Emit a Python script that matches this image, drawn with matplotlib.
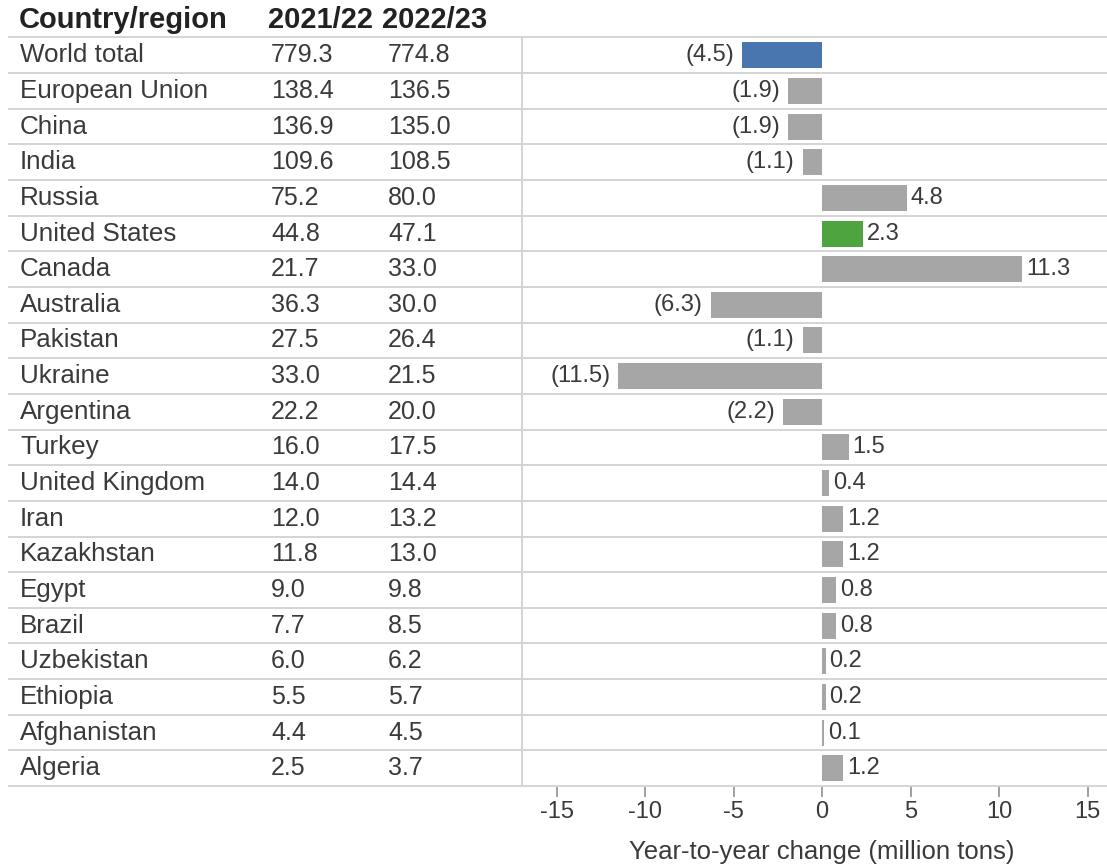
import matplotlib
matplotlib.use("Agg")
import matplotlib.pyplot as plt
from matplotlib.transforms import blended_transform_factory
from matplotlib.lines import Line2D

countries = ["World total", "European Union", "China", "India", "Russia",
             "United States", "Canada", "Australia", "Pakistan", "Ukraine",
             "Argentina", "Turkey", "United Kingdom", "Iran", "Kazakhstan",
             "Egypt", "Brazil", "Uzbekistan", "Ethiopia", "Afghanistan", "Algeria"]
y2122 = [779.3, 138.4, 136.9, 109.6, 75.2, 44.8, 21.7, 36.3, 27.5, 33.0,
         22.2, 16.0, 14.0, 12.0, 11.8, 9.0, 7.7, 6.0, 5.5, 4.4, 2.5]
y2223 = [774.8, 136.5, 135.0, 108.5, 80.0, 47.1, 33.0, 30.0, 26.4, 21.5,
         20.0, 17.5, 14.4, 13.2, 13.0, 9.8, 8.5, 6.2, 5.7, 4.5, 3.7]
change = [-4.5, -1.9, -1.9, -1.1, 4.8, 2.3, 11.3, -6.3, -1.1, -11.5,
          -2.2, 1.5, 0.4, 1.2, 1.2, 0.8, 0.8, 0.2, 0.2, 0.1, 1.2]
headers = ["Country/region", "2021/22", "2022/23"]
xticks = [-15, -10, -5, 0, 5, 10, 15]

plt.rcParams['font.family'] = ['Liberation Sans', 'DejaVu Sans']
TXT = '#3a3a3a'
GRID = '#d4d4d4'
GREY = '#a6a6a6'
BLUE = '#4a76b0'
GREEN = '#4ea53f'

W, H = 1107, 867
fig = plt.figure(figsize=(W / 100, H / 100), dpi=100)
top_px, bot_px, left_px = 37.5, 786.0, 522.0
ax = fig.add_axes([left_px / W, 1 - bot_px / H, 1 - left_px / W, (bot_px - top_px) / H])

n = len(countries)
ypos = list(range(n))
colors = [GREY] * n
colors[0] = BLUE
colors[countries.index("United States")] = GREEN
ax.barh(ypos, change, height=0.73, color=colors, zorder=3)

ax.set_ylim(n - 0.5, -0.5)
ax.set_xlim(-16.95, 16.1)
ax.set_yticks([])
ax.set_xticks(xticks)
ax.set_xticklabels([str(t) for t in xticks], fontsize=17, color=TXT)
ax.tick_params(axis='x', length=8, width=1.2, color='#909090', pad=3)
for s in ['top', 'right', 'bottom']:
    ax.spines[s].set_visible(False)
ax.spines['left'].set_color(GRID)
ax.spines['left'].set_linewidth(1.4)

# value labels
for y, v in zip(ypos, change):
    if v < 0:
        ax.annotate(f"({abs(v):.1f})", (v, y), xytext=(-8, 0), textcoords='offset pixels',
                    ha='right', va='center', fontsize=17, color=TXT)
    else:
        ax.annotate(f"{v:.1f}", (v, y), xytext=(4, 0), textcoords='offset pixels',
                    ha='left', va='center', fontsize=17, color=TXT)

# table
tr = blended_transform_factory(fig.transFigure, ax.transData)
col_x = [20 / W, 271 / W, 388 / W]
hdr_x = [19 / W, 268 / W, 382 / W]
for hx, h in zip(hdr_x, headers):
    ax.text(hx, -0.99, h, transform=tr, ha='left', va='center', fontsize=21,
            fontweight='bold', color='#222222', clip_on=False)
for y, c, a, b in zip(ypos, countries, y2122, y2223):
    ax.text(col_x[0], y, c, transform=tr, ha='left', va='center', fontsize=18.7, color=TXT, clip_on=False)
    ax.text(col_x[1], y, f"{a:.1f}", transform=tr, ha='left', va='center', fontsize=18, color=TXT, clip_on=False)
    ax.text(col_x[2], y, f"{b:.1f}", transform=tr, ha='left', va='center', fontsize=18, color=TXT, clip_on=False)

for k in range(n + 1):
    fig.add_artist(Line2D([9 / W, 1.0], [k - 0.5, k - 0.5], transform=tr, color=GRID, lw=1.4, zorder=1))

ax.set_xlabel("Year-to-year change (million tons)", fontsize=18.5, color=TXT)
ax.xaxis.set_label_coords(0, 1 - 852 / H, transform=blended_transform_factory(ax.transData, fig.transFigure))
ax.xaxis.label.set_va('center')

fig.savefig("out.png", dpi=100)
